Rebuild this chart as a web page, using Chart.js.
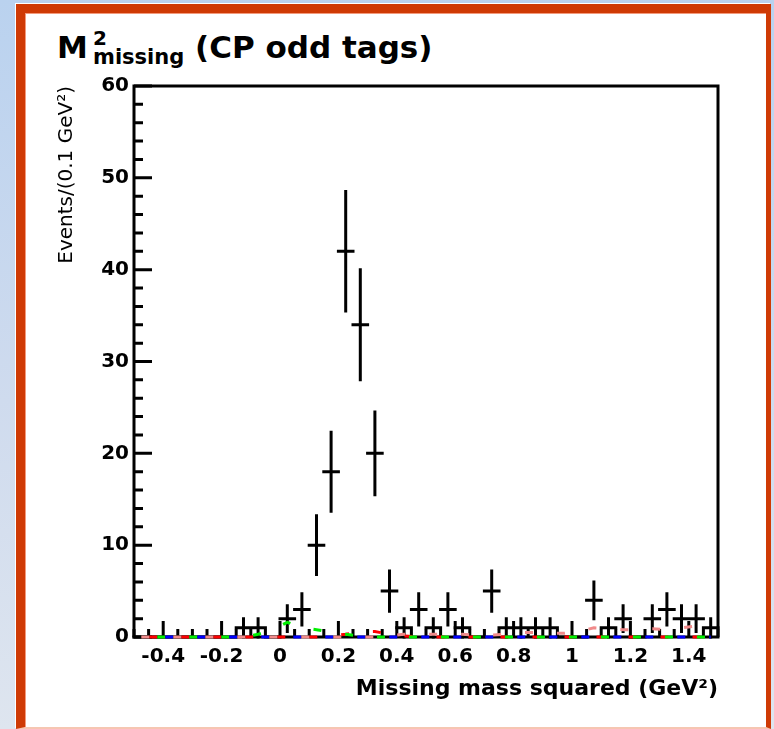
<!DOCTYPE html>
<html>
<head>
<meta charset="utf-8">
<title>Missing mass squared, CP odd tags</title>
<script src="https://cdn.jsdelivr.net/npm/chart.js@4.4.0/dist/chart.umd.min.js"></script>
<style>
  html, body { margin: 0; padding: 0; }
  body {
    width: 774px; height: 729px; overflow: hidden; position: relative;
    background: linear-gradient(180deg, #bad2ef 0%, #cfdbee 55%, #dee5ef 100%);
    font-family: "DejaVu Sans", sans-serif;
  }
  #frame {
    position: absolute; left: 16px; top: 4px;
    width: 741px; height: 714px;
    background: #fff;
    border-left: 9px solid #cf3a05;
    border-top: 9px solid #cf3a05;
    border-right: 5px solid #cf3a05;
    border-bottom: 2px solid #f6c6b2;
    box-shadow: -1px -1px 0 #ffffff, inset 1px 1px 0 #f39a7c;
  }
  .t { position: absolute; line-height: 1; font-weight: bold; color: #000; white-space: nowrap; }
  #chart { position: absolute; left: 0; top: 0; }
</style>
</head>
<body>
<div id="frame"></div>
<span class="t" style="left:57px; top:32px; font-size:31px;">M</span>
<span class="t" style="left:93px; top:28px; font-size:20px;">2</span>
<span class="t" style="left:93px; top:47px; font-size:21px;">missing</span>
<span class="t" style="left:195px; top:32px; font-size:31px;">(CP odd tags)</span>
<canvas id="chart" width="774" height="729"></canvas>
<script>
// bin centres (0.05 GeV^2 wide bins)
const binCenters = [
  -0.475, -0.425, -0.375, -0.325, -0.275, -0.225, -0.175, -0.125, -0.075, -0.025,
   0.025,  0.075,  0.125,  0.175,  0.225,  0.275,  0.325,  0.375,  0.425,  0.475,
   0.525,  0.575,  0.625,  0.675,  0.725,  0.775,  0.825,  0.875,  0.925,  0.975,
   1.025,  1.075,  1.125,  1.175,  1.225,  1.275,  1.325,  1.375,  1.425,  1.475
];
const binWidth = 0.05;

// events per bin and their errors
const counts = [
  0, 0, 0, 0, 0, 0, 0, 1, 1, 0,
  2, 3, 10, 18, 42, 34, 20, 5, 1, 3,
  1, 3, 1, 0, 5, 1, 1, 1, 1, 0,
  0, 4, 1, 2, 0, 2, 3, 2, 2, 1
];
const countErrors = [
  0, 0, 0, 0, 0, 0, 0, 1, 1, 0,
  1.4, 1.7, 3.2, 4.3, 6.5, 6.0, 4.5, 2.2, 1, 1.7,
  1, 1.7, 1, 0, 2.2, 1, 1, 1, 1, 0,
  0, 2, 1, 1.4, 0, 1.4, 1.7, 1.4, 1.4, 1
];

// fit components (dashed)
const blueFit = [
  0, 0, 0, 0, 0, 0, 0, 0, 0, 0,
  0, 0, 0, 0, 0, 0, 0, 0, 0, 0,
  0, 0, 0, 0, 0, 0, 0, 0, 0, 0,
  0, 0, 0, 0, 0, 0, 0, 0, 0, 0
];
const greenFit = [
  0, 0, 0, 0, 0, 0, 0, 0, 0.3, 0.8,
  1.6, 1.0, 0.8, 0.5, 0.3, 0.1, 0, 0, 0, 0,
  0, 0, 0, 0, 0, 0, 0, 0, 0, 0,
  0, 0, 0, 0, 0, 0, 0, 0, 0, 0
];
const redFit = [
  0, 0, 0, 0, 0, 0, 0, 0, 0, 0,
  0, 0, 0, 0.1, 0.3, 0.6, 0.6, 0.3, 0.1, 0,
  0, 0, 0, 0, 0, 0, 0, 0, 0, 0,
  0, 0, 0, 0, 0, 0, 0, 0, 0, 0
];
const pinkFit = [
  0, 0, 0, 0, 0, 0, 0, 0, 0, 0,
  0, 0, 0, 0, 0, 0, 0, 0.1, 0.3, 0.3,
  0.3, 0.3, 0.3, 0.2, 0.2, 0.3, 0.5, 0.5, 0.4, 0.4,
  0.6, 1.0, 0.9, 0.8, 0.8, 0.9, 0.8, 1.0, 1.2, 1.5
];

const xTickValues = [-0.4, -0.2, 0, 0.2, 0.4, 0.6, 0.8, 1, 1.2, 1.4];
const xTickLabels = ['-0.4', '-0.2', '0', '0.2', '0.4', '0.6', '0.8', '1', '1.2', '1.4'];
const yTickValues = [0, 10, 20, 30, 40, 50, 60];
const yTickLabels = ['0', '10', '20', '30', '40', '50', '60'];

function pts(arr) {
  return binCenters.map((x, i) => ({ x: x, y: arr[i] }));
}

function fitLine(color, values, offset) {
  return {
    type: 'line',
    data: pts(values),
    borderColor: color,
    borderWidth: 3,
    borderDash: [8, 24],
    borderDashOffset: offset,
    pointRadius: 0,
    fill: false,
    tension: 0,
    clip: false
  };
}

// frame, inward ticks and the data crosses
const histFrame = {
  id: 'histFrame',
  beforeDatasetsDraw(chart) {
    const ctx = chart.ctx;
    const a = chart.chartArea;
    const xs = chart.scales.x, ys = chart.scales.y;
    ctx.save();
    ctx.strokeStyle = '#000';
    ctx.lineWidth = 3;
    ctx.strokeRect(a.left, a.top, a.right - a.left, a.bottom - a.top);

    ctx.beginPath();
    for (let v = -0.5; v <= 1.5001; v += 0.05) {
      const px = xs.getPixelForValue(v);
      const major = xTickValues.some(t => Math.abs(t - v) < 1e-6);
      ctx.moveTo(px, a.bottom);
      ctx.lineTo(px, a.bottom - (major ? 16 : 8));
    }
    for (let v = 0; v <= 60; v += 2) {
      const py = ys.getPixelForValue(v);
      const major = v % 10 === 0;
      ctx.moveTo(a.left, py);
      ctx.lineTo(a.left + (major ? 18 : 9), py);
    }
    ctx.stroke();

    ctx.lineCap = 'square';
    ctx.beginPath();
    binCenters.forEach((x, i) => {
      const x0 = xs.getPixelForValue(x - binWidth / 2);
      const x1 = xs.getPixelForValue(x + binWidth / 2);
      const xc = xs.getPixelForValue(x);
      const yc = ys.getPixelForValue(counts[i]);
      ctx.moveTo(x0, yc);
      ctx.lineTo(x1, yc);
      if (countErrors[i] > 0) {
        ctx.moveTo(xc, ys.getPixelForValue(counts[i] + countErrors[i]));
        ctx.lineTo(xc, ys.getPixelForValue(counts[i] - countErrors[i]));
      }
    });
    ctx.stroke();
    ctx.restore();
  }
};

new Chart(document.getElementById('chart'), {
  type: 'scatter',
  data: {
    datasets: [
      fitLine('#f08a8a', pinkFit, 0),
      fitLine('#0000ff', blueFit, 8),
      fitLine('#00ee00', greenFit, 16),
      fitLine('#ff0000', redFit, 24)
    ]
  },
  options: {
    responsive: false,
    animation: false,
    events: [],
    devicePixelRatio: 1,
    layout: { padding: { left: 0, top: 86, right: 56, bottom: 0 } },
    plugins: { legend: { display: false }, tooltip: { enabled: false } },
    scales: {
      x: {
        type: 'linear',
        min: -0.5,
        max: 1.5,
        grid: { display: false, drawTicks: false },
        border: { display: false },
        afterBuildTicks: s => { s.ticks = xTickValues.map(v => ({ value: v })); },
        afterFit: s => { s.height = 92; },
        ticks: {
          color: '#000',
          padding: 8,
          maxRotation: 0,
          autoSkip: false,
          font: { family: 'DejaVu Sans', size: 20, weight: 'bold' },
          callback: (v, i) => xTickLabels[i]
        },
        title: {
          display: true,
          text: 'Missing mass squared (GeV²)',
          align: 'end',
          color: '#000',
          font: { family: 'DejaVu Sans', size: 22, weight: 'bold' },
          padding: { top: 0, bottom: 27 }
        }
      },
      y: {
        type: 'linear',
        min: 0,
        max: 60,
        grid: { display: false, drawTicks: false },
        border: { display: false },
        afterBuildTicks: s => { s.ticks = yTickValues.map(v => ({ value: v })); },
        afterFit: s => { s.width = 134; },
        ticks: {
          color: '#000',
          padding: 5,
          font: { family: 'DejaVu Sans', size: 20, weight: 'bold' },
          callback: (v, i) => yTickLabels[i]
        },
        title: {
          display: true,
          text: 'Events/(0.1 GeV²)',
          align: 'end',
          color: '#000',
          font: { family: 'DejaVu Sans', size: 20, weight: 'normal' },
          padding: { top: 55, bottom: 0 }
        }
      }
    }
  },
  plugins: [histFrame]
});
</script>
</body>
</html>
